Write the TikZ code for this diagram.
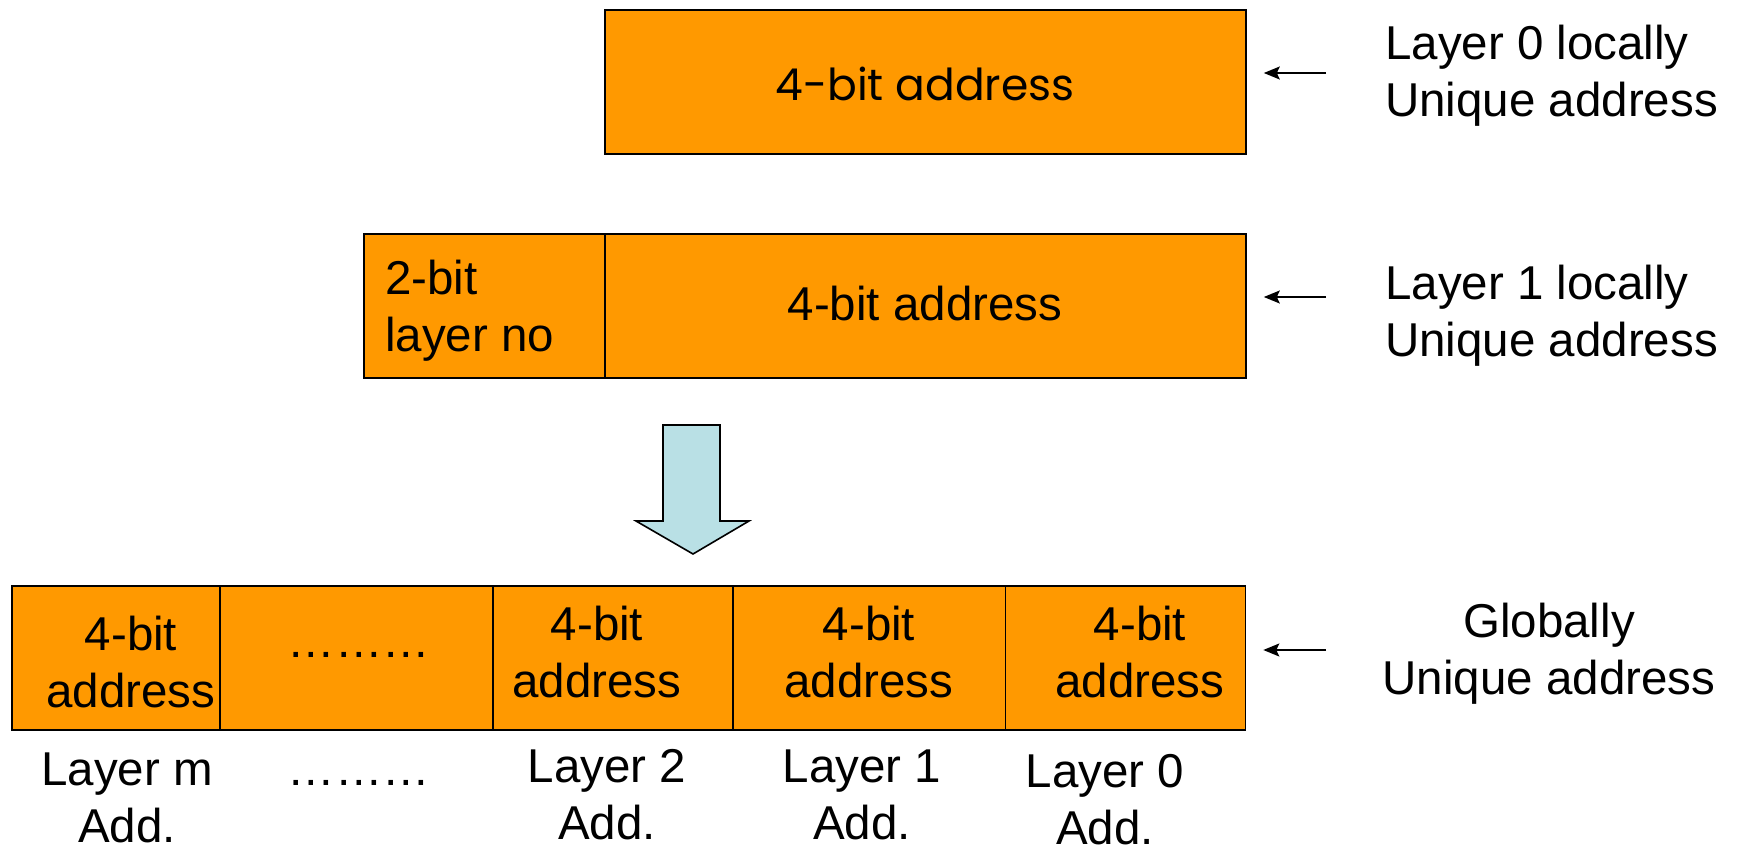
\documentclass[tikz,border=0pt]{standalone}
\usepackage{fontspec}
\setmainfont{Liberation Sans}
\newfontfamily\geofont{Poppins}
\usetikzlibrary{arrows.meta}
\definecolor{fieldorange}{RGB}{255,153,0}
\definecolor{arrowblue}{RGB}{185,224,229}

\begin{document}
\begin{tikzpicture}[x=1pt,y=-1pt,
  field/.style={draw=black, line width=1.8pt, fill=fieldorange,
    minimum height=144pt, anchor=north west, inner sep=0pt},
  lbl/.style={inner sep=0pt, font=\fontsize{47.5}{57}\selectfont, align=center},
  lbll/.style={lbl, align=left, anchor=west},
  pointer/.style={-{Stealth[length=16pt,width=13pt,inset=3pt]},
    line width=1.5pt, shorten >=17pt},
]
\useasboundingbox (0,0) rectangle (1738,848);

% layer 0 local address
\node[field, minimum width=641pt] (top) at (604,9) {};
\node[inner sep=0pt, font=\geofont\fontsize{44}{50}\selectfont] (toptxt) at (925,84) {4-bit address};

% layer 1 local address: layer number + address
\node[field, minimum width=241pt] (lnum) at (363,233) {};
\node[field, minimum width=641pt] (laddr) at (604,233) {};
\node[lbll] (lnumtxt) at (385,311) {2-bit\\layer no};
\node[lbl] (laddrtxt) at (925,304) {4-bit address};

% block arrow
\draw[line width=1.6pt, fill=arrowblue, line join=miter]
  (663,425) -- (720,425) -- (720,521) -- (749,521) -- (693,554)
  -- (636,521) -- (663,521) -- cycle;

% global address
\node[field, minimum width=208pt] (c1) at (11,585) {};
\node[field, minimum width=273pt] (c2) at (219,585) {};
\node[field, minimum width=240pt] (c3) at (492,585) {};
\node[field, minimum width=272.5pt] (c4) at (732,585) {};
\node[field, minimum width=240pt] (c5) at (1004.5,585) {};
\node[lbl] (c1txt) at (131,662) {4-bit\\address};
\node[lbl, anchor=base] (c2txt) at (359,657) {………};
\node[lbl] (c3txt) at (597,652) {4-bit\\address};
\node[lbl] (c4txt) at (869,652) {4-bit\\address};
\node[lbl] (c5txt) at (1140,652) {4-bit\\address};

% layer names under the fields
\node[lbl] (n1) at (127,798) {Layer m\\Add.};
\node[lbl, anchor=base] (n2) at (359,785) {………};
\node[lbl] (n3) at (607,795) {Layer 2\\Add.};
\node[lbl] (n4) at (862,795) {Layer 1\\Add.};
\node[lbl] (n5) at (1105,800) {Layer 0\\Add.};

% right-hand descriptions
\node[lbll] (d0) at (1385,76) {Layer 0 locally\\Unique address};
\node[lbll] (d1) at (1385,316) {Layer 1 locally\\Unique address};
\node[lbl] (d2) at (1549,654) {Globally\\Unique address};

\coordinate (p0) at (1326,73);
\coordinate (p1) at (1326,297);
\coordinate (p2) at (1326,650);
\draw[pointer] (p0) -- (p0 -| top.east);
\draw[pointer] (p1) -- (p1 -| laddr.east);
\draw[pointer] (p2) -- (p2 -| c5.east);
\end{tikzpicture}
\end{document}
